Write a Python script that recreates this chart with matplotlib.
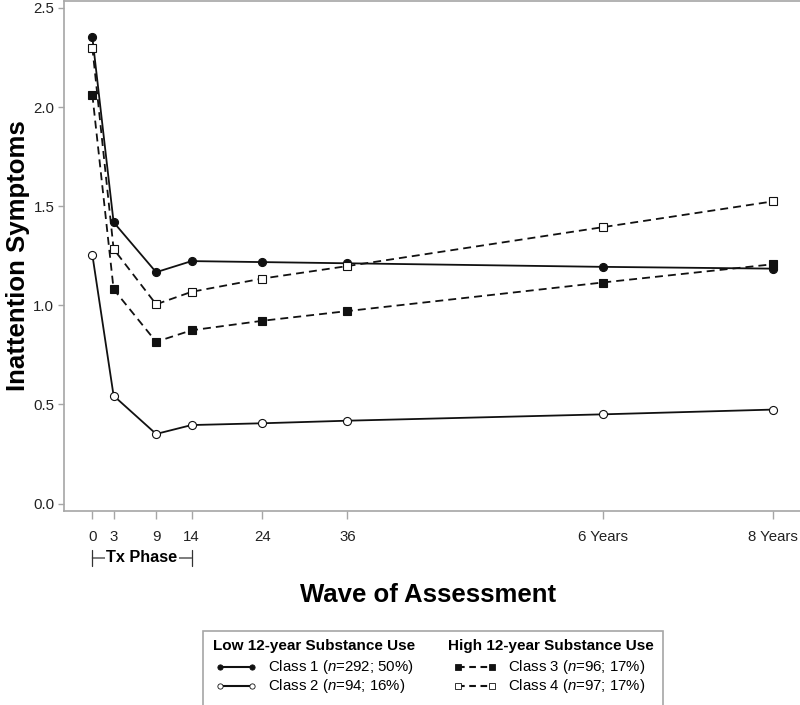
import matplotlib
matplotlib.use("Agg")
import matplotlib.pyplot as plt
from matplotlib.lines import Line2D
from matplotlib.patches import Rectangle

# ── Data ────────────────────────────────────────────────────────────────────
waves = [0, 3, 9, 14, 24, 36, 72, 96]          # months since baseline
wave_labels = ["0", "3", "9", "14", "24", "36", "6 Years", "8 Years"]
y_ticks = [0.0, 0.5, 1.0, 1.5, 2.0, 2.5]

class1 = [2.352, 1.419, 1.167, 1.223, 1.218, 1.212, 1.194, 1.185]
class2 = [1.255, 0.544, 0.351, 0.396, 0.405, 0.418, 0.450, 0.474]
class3 = [2.062, 1.081, 0.816, 0.874, 0.922, 0.971, 1.115, 1.207]
class4 = [2.300, 1.284, 1.005, 1.068, 1.135, 1.198, 1.394, 1.524]

class_labels = [
    r"Class 1 ($\it{n}$=292; 50%)",
    r"Class 2 ($\it{n}$=94; 16%)",
    r"Class 3 ($\it{n}$=96; 17%)",
    r"Class 4 ($\it{n}$=97; 17%)",
]
group_labels = ["Low 12-year Substance Use", "High 12-year Substance Use"]
tx_phase = [0, 14]

# ── Style ────────────────────────────────────────────────────────────────────
plt.rcParams["font.family"] = ["Liberation Sans", "DejaVu Sans"]
plt.rcParams["mathtext.fontset"] = "custom"
plt.rcParams["mathtext.rm"] = "Liberation Sans"
plt.rcParams["mathtext.it"] = "Liberation Sans:italic"

INK = "#111111"
GRID_GRAY = "#a6a6a6"
DASH = (0, (4.4, 2.8))
LEG_DASH = (0, (3.2, 2.2))

styles = [
    dict(ls="-", marker="o", mfc=INK),
    dict(ls="-", marker="o", mfc="white"),
    dict(ls=DASH, marker="s", mfc=INK),
    dict(ls=DASH, marker="s", mfc="white"),
]

fig = plt.figure(figsize=(8.0, 7.05), dpi=100)
ax = fig.add_axes([64 / 800, 1 - 510.7 / 705, 737 / 800, 509.7 / 705])

for series, st in zip([class1, class2, class3, class4], styles):
    ax.plot(waves, series, color=INK, lw=1.3, linestyle=st["ls"],
            marker=st["marker"], markersize=5.8 if st["marker"] == "o" else 5.4,
            markerfacecolor=st["mfc"], markeredgecolor=INK, markeredgewidth=0.8,
            clip_on=False)

ax.set_xlim(-4, 100)
ax.set_ylim(-0.036, 2.535)
ax.set_xticks(waves)
ax.set_xticklabels(wave_labels)
ax.set_yticks(y_ticks)
ax.set_yticklabels([f"{v:.1f}" for v in y_ticks])

for side in ["left", "bottom", "top"]:
    ax.spines[side].set_color(GRID_GRAY)
    ax.spines[side].set_linewidth(1.2)
ax.spines["right"].set_visible(False)
ax.tick_params(axis="x", length=6, width=1, color=GRID_GRAY, pad=8,
               labelsize=10.8, labelcolor="#222222")
ax.tick_params(axis="y", length=4, width=1, color=GRID_GRAY, pad=3,
               labelsize=10.8, labelcolor="#222222")

# ── Tx Phase bracket under the first waves ───────────────────────────────────
tr = ax.get_xaxis_transform()
y_br = (510.7 - 558) / 509.7
ax.annotate("", xy=(tx_phase[0], y_br), xytext=(tx_phase[1], y_br),
            xycoords=tr, textcoords=tr, annotation_clip=False,
            arrowprops=dict(arrowstyle="|-|,widthA=0.4,widthB=0.4",
                            color="#333333", lw=0.9, shrinkA=0, shrinkB=0,
                            mutation_scale=14))
ax.text(sum(tx_phase) / 2, y_br, "Tx Phase", transform=tr, ha="center",
        va="center", fontsize=11.7, fontweight="bold", clip_on=False,
        bbox=dict(facecolor="white", edgecolor="none", pad=1.2))

# ── Axis titles ──────────────────────────────────────────────────────────────
fig.text(18 / 800, 1 - 256 / 705, "Inattention Symptoms", rotation=90,
         ha="center", va="center", fontsize=18.5, fontweight="bold")
fig.text(428 / 800, 1 - 595 / 705, "Wave of Assessment",
         ha="center", va="center", fontsize=18.5, fontweight="bold")

# ── Legend, built by hand to get the two grouped columns ─────────────────────
fig.add_artist(Rectangle((202.7 / 800, -0.02), (663 - 202.7) / 800,
                         0.02 + 1 - 630.5 / 705, transform=fig.transFigure,
                         facecolor="white", edgecolor=GRID_GRAY, lw=1.2))

col_header_x = [212.7, 448]
col_handle_x = [(220, 252), (458, 492)]
col_text_x = [268, 508]
header_y = 646
row_y = [667, 686]

for c in range(2):
    fig.text(col_header_x[c] / 800, 1 - header_y / 705, group_labels[c],
             ha="left", va="center", fontsize=11, fontweight="bold")
    for r in range(2):
        k = 2 * c + r
        st = styles[k]
        x0, x1 = col_handle_x[c]
        yy = 1 - row_y[r] / 705
        fig.add_artist(Line2D([x0 / 800, x1 / 800], [yy, yy],
                              transform=fig.transFigure, color=INK, lw=1.5,
                              linestyle="-" if st["ls"] == "-" else LEG_DASH,
                              marker=st["marker"],
                              markersize=3.8, markerfacecolor=st["mfc"],
                              markeredgecolor=INK, markeredgewidth=0.6))
        fig.text(col_text_x[c] / 800, yy, class_labels[k], ha="left",
                 va="center", fontsize=10.8)

fig.savefig("out.png", dpi=100)
